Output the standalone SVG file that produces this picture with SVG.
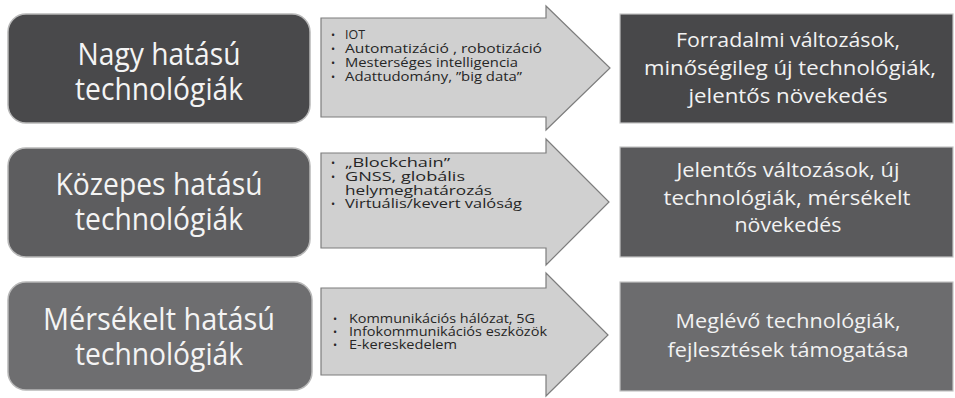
<svg xmlns="http://www.w3.org/2000/svg" width="955" height="398" viewBox="0 0 955 398">
<defs>
<style>
.bg{fill:#ffffff}
.lbox{stroke:#b8b8b8;stroke-width:1.5}
.rbox{stroke:#c4c4c4;stroke-width:1.2}
.arrow{fill:#d0d0d0;stroke:#7d7d7d;stroke-width:1.2}
.big{font-family:"Open Sans","Noto Sans",sans-serif;font-size:31px;fill:#f4f4f4;text-anchor:middle}
.mid{font-family:"Open Sans","Noto Sans",sans-serif;font-size:20px;fill:#f2f2f2;text-anchor:middle}
.sm{font-family:"Open Sans","Noto Sans",sans-serif;font-size:12.5px;fill:#262626}
.bul{font-family:"Open Sans","Noto Sans",sans-serif;font-size:11px;fill:#262626}
.c1{fill:#49494b}.c2{fill:#5d5d5f}.c3{fill:#6e6e70}
.d1{fill:#48484a}.d2{fill:#5a5a5c}.d3{fill:#6c6c6e}
</style>
</defs>
<rect class="bg" x="0" y="0" width="955" height="398"/>

<g id="connectors">
<path id="arrow1" class="arrow" d="M321,18 H546 V6 L610,68 L546,130 V117 H321 Z"/>
<path id="arrow2" class="arrow" d="M321,153 H546 V139 L609,202 L546,265 V248 H321 Z"/>
<path id="arrow3" class="arrow" d="M321,288 H546 V273 L608,335 L546,396 V375 H321 Z"/>
</g>

<g id="left1">
<rect class="lbox c1" x="8" y="14" width="302" height="109" rx="18"/>
<text class="big" x="159" y="65" textLength="163" lengthAdjust="spacingAndGlyphs">Nagy hatású</text>
<text class="big" x="159" y="100" textLength="168" lengthAdjust="spacingAndGlyphs">technológiák</text>
</g>
<g id="left2">
<rect class="lbox c2" x="8" y="148" width="302" height="109" rx="18"/>
<text class="big" x="159" y="195" textLength="207" lengthAdjust="spacingAndGlyphs">Közepes hatású</text>
<text class="big" x="159" y="230" textLength="168" lengthAdjust="spacingAndGlyphs">technológiák</text>
</g>
<g id="left3">
<rect class="lbox c3" x="8" y="282" width="304" height="108" rx="18"/>
<text class="big" x="159" y="330" textLength="232" lengthAdjust="spacingAndGlyphs">Mérsékelt hatású</text>
<text class="big" x="159" y="365" textLength="168" lengthAdjust="spacingAndGlyphs">technológiák</text>
</g>

<g id="list1">
<text class="bul" x="331" y="39">•</text><text class="sm" x="345" y="39" textLength="20" lengthAdjust="spacingAndGlyphs">IOT</text>
<text class="bul" x="331" y="53">•</text><text class="sm" x="345" y="53" textLength="197" lengthAdjust="spacingAndGlyphs">Automatizáció , robotizáció</text>
<text class="bul" x="331" y="67">•</text><text class="sm" x="345" y="67" textLength="173" lengthAdjust="spacingAndGlyphs">Mesterséges intelligencia</text>
<text class="bul" x="331" y="81">•</text><text class="sm" x="345" y="81" textLength="177" lengthAdjust="spacingAndGlyphs">Adattudomány, ”big data”</text>
</g>
<g id="list2">
<text class="bul" x="331" y="167">•</text><text class="sm" x="345" y="167" textLength="105" lengthAdjust="spacingAndGlyphs">„Blockchain”</text>
<text class="bul" x="331" y="181">•</text><text class="sm" x="345" y="181" textLength="120" lengthAdjust="spacingAndGlyphs">GNSS, globális</text>
<text class="sm" x="345" y="195" textLength="147" lengthAdjust="spacingAndGlyphs">helymeghatározás</text>
<text class="bul" x="331" y="208">•</text><text class="sm" x="345" y="208" textLength="177" lengthAdjust="spacingAndGlyphs">Virtuális/kevert valóság</text>
</g>
<g id="list3">
<text class="bul" x="333" y="323">•</text><text class="sm" x="349" y="323" textLength="186" lengthAdjust="spacingAndGlyphs">Kommunikációs hálózat, 5G</text>
<text class="bul" x="333" y="336">•</text><text class="sm" x="349" y="336" textLength="198" lengthAdjust="spacingAndGlyphs">Infokommunikációs eszközök</text>
<text class="bul" x="333" y="349">•</text><text class="sm" x="349" y="349" textLength="108" lengthAdjust="spacingAndGlyphs">E-kereskedelem</text>
</g>

<g id="right1">
<rect class="rbox d1" x="620" y="14" width="333" height="109"/>
<text class="mid" x="788" y="47" textLength="224" lengthAdjust="spacingAndGlyphs">Forradalmi változások,</text>
<text class="mid" x="790" y="75" textLength="292" lengthAdjust="spacingAndGlyphs">minőségileg új technológiák,</text>
<text class="mid" x="788" y="103" textLength="199" lengthAdjust="spacingAndGlyphs">jelentős növekedés</text>
</g>
<g id="right2">
<rect class="rbox d2" x="620" y="147" width="333" height="110"/>
<text class="mid" x="788" y="177" textLength="223" lengthAdjust="spacingAndGlyphs">Jelentős változások, új</text>
<text class="mid" x="787" y="205" textLength="247" lengthAdjust="spacingAndGlyphs">technológiák, mérsékelt</text>
<text class="mid" x="788" y="232" textLength="107" lengthAdjust="spacingAndGlyphs">növekedés</text>
</g>
<g id="right3">
<rect class="rbox d3" x="620" y="282" width="333" height="109"/>
<text class="mid" x="788" y="328" textLength="225" lengthAdjust="spacingAndGlyphs">Meglévő technológiák,</text>
<text class="mid" x="788" y="357" textLength="241" lengthAdjust="spacingAndGlyphs">fejlesztések támogatása</text>
</g>
</svg>
